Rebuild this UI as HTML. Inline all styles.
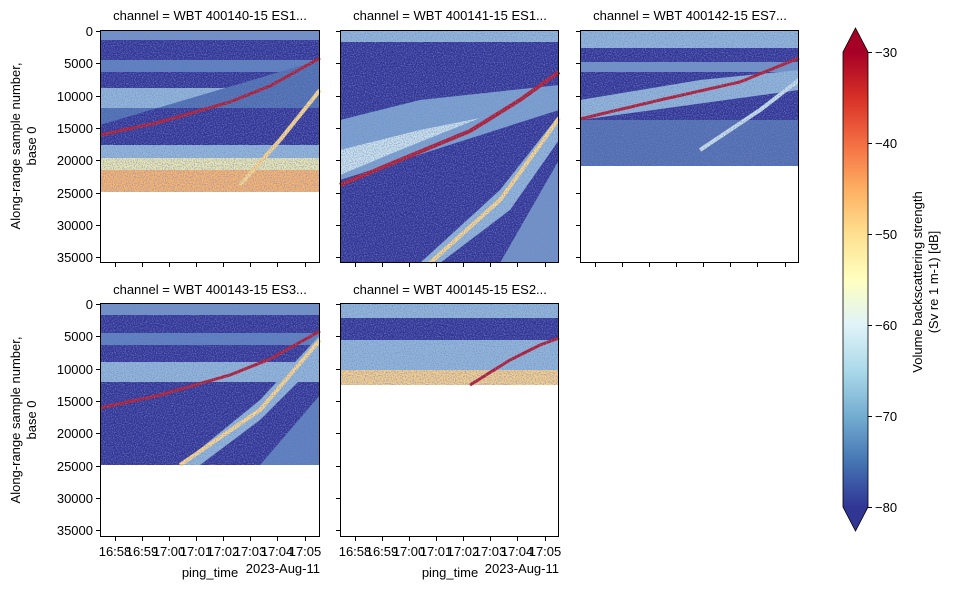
<!DOCTYPE html>
<html><head><meta charset="utf-8"><style>
body{margin:0;background:#fff}
svg text{font-family:"Liberation Sans","DejaVu Sans",sans-serif;font-size:13px;fill:#000}
</style></head><body>
<svg width="953" height="590" viewBox="0 0 953 590" xmlns="http://www.w3.org/2000/svg">
<defs>
<linearGradient id="cb" x1="0" y1="1" x2="0" y2="0">
<stop offset="0" stop-color="#313695"/><stop offset="0.1" stop-color="#4575b4"/><stop offset="0.2" stop-color="#74add1"/><stop offset="0.3" stop-color="#abd9e9"/><stop offset="0.4" stop-color="#e0f3f8"/><stop offset="0.5" stop-color="#ffffbf"/><stop offset="0.6" stop-color="#fee090"/><stop offset="0.7" stop-color="#fdae61"/><stop offset="0.8" stop-color="#f46d43"/><stop offset="0.9" stop-color="#d73027"/><stop offset="1" stop-color="#a50026"/>
</linearGradient>
<filter id="nz" x="0" y="0" width="100%" height="100%">
<feTurbulence type="fractalNoise" baseFrequency="0.9" numOctaves="1" seed="3" result="t"/>
<feColorMatrix in="t" type="matrix" values="0 0 0 0 0.2  0 0 0 0 0.22  0 0 0 0 0.58  0 0 0 -2.2 1.25" result="m"/>
<feComposite in="m" in2="SourceGraphic" operator="in"/>
</filter>
</defs>

<!-- Panel 1 -->
<g>
<rect x="100" y="30" width="220" height="162" fill="#313695"/>
<rect x="100" y="30" width="220" height="10" fill="#6f93c6"/>
<rect x="100" y="60" width="220" height="12" fill="#5a7fbd"/>
<rect x="100" y="88" width="220" height="20" fill="#8fb7d8"/>
<polygon points="100,108 320,108 320,60 100,125" fill="#4b6fb0"/>
<rect x="100" y="145" width="220" height="15" fill="#8fb7d8"/>
<rect x="100" y="158" width="220" height="12" fill="#e8e8b0"/>
<rect x="100" y="170" width="220" height="22" fill="#f8b66e"/>
<polyline points="100,135 160,122 230,102 270,86 320,58" stroke="#b2182b" stroke-width="3" fill="none"/>
<polyline points="240,185 280,140 320,90" stroke="#fdd98a" stroke-width="4" fill="none"/>
<rect x="100" y="30" width="220" height="162" filter="url(#nz)" fill="#fff"/>
</g>
<!-- Panel 2 -->
<g>
<rect x="340" y="30" width="219" height="233" fill="#313695"/>
<rect x="340" y="30" width="219" height="12" fill="#8fb7d8"/>
<polygon points="340,120 420,100 559,85 559,110 340,180" fill="#7aa3cf"/>
<polygon points="340,150 420,130 480,118 400,150 340,175" fill="#c9e3ea"/>
<polyline points="340,185 400,160 470,131 520,100 559,72" stroke="#b2182b" stroke-width="4" fill="none"/>
<polygon points="420,263 500,190 559,115 559,140 510,210 440,263" fill="#8fb7d8"/>
<polyline points="430,263 500,200 540,145 559,118" stroke="#fdd98a" stroke-width="4" fill="none"/>
<polygon points="500,263 559,160 559,263" fill="#6f93c6"/>
<rect x="340" y="30" width="219" height="233" filter="url(#nz)" fill="#fff"/>
</g>
<!-- Panel 3 -->
<g>
<rect x="580" y="30" width="219" height="136" fill="#313695"/>
<rect x="580" y="30" width="219" height="18" fill="#8fb7d8"/>
<rect x="580" y="62" width="219" height="10" fill="#6f93c6"/>
<polygon points="580,100 700,80 799,70 799,90 580,120" fill="#8fb7d8"/>
<rect x="580" y="120" width="219" height="46" fill="#4f6fb0"/>
<polyline points="580,119 660,100 740,82 799,58" stroke="#b2182b" stroke-width="3" fill="none"/>
<polyline points="700,150 760,110 799,80" stroke="#c9e3ea" stroke-width="4" fill="none"/>
<rect x="580" y="30" width="219" height="136" filter="url(#nz)" fill="#fff"/>
</g>
<!-- Panel 4 -->
<g>
<rect x="100" y="303" width="220" height="162" fill="#313695"/>
<rect x="100" y="303" width="220" height="12" fill="#6f93c6"/>
<rect x="100" y="333" width="220" height="12" fill="#5a7fbd"/>
<rect x="100" y="362" width="220" height="20" fill="#8fb7d8"/>
<polyline points="100,408 160,395 230,375 270,359 320,331" stroke="#b2182b" stroke-width="3" fill="none"/>
<polygon points="180,465 260,400 320,335 320,360 260,420 200,465" fill="#8fb7d8"/>
<polyline points="180,465 260,410 320,340" stroke="#fdd98a" stroke-width="4" fill="none"/>
<polygon points="260,465 320,395 320,465" fill="#5a7fbd"/>
<rect x="100" y="303" width="220" height="162" filter="url(#nz)" fill="#fff"/>
</g>
<!-- Panel 5 -->
<g>
<rect x="340" y="303" width="219" height="82" fill="#313695"/>
<rect x="340" y="303" width="219" height="15" fill="#8fb7d8"/>
<rect x="340" y="340" width="219" height="30" fill="#8fb7d8"/>
<rect x="340" y="370" width="219" height="15" fill="#f4d08a"/>
<polyline points="470,385 510,360 540,345 559,338" stroke="#b2182b" stroke-width="3" fill="none"/>
<rect x="340" y="303" width="219" height="82" filter="url(#nz)" fill="#fff"/>
</g>

<!-- frames -->
<g fill="none" stroke="#000" stroke-width="1">
<rect x="100.5" y="30.5" width="219" height="232"/>
<rect x="340.5" y="30.5" width="218" height="232"/>
<rect x="580.5" y="30.5" width="218" height="232"/>
<rect x="100.5" y="303.5" width="219" height="233"/>
<rect x="340.5" y="303.5" width="218" height="233"/>
</g>
<!-- y ticks -->
<g stroke="#000">
<path d="M96,31.5h4M96,63.5h4M96,96.5h4M96,128.5h4M96,160.5h4M96,193.5h4M96,225.5h4M96,257.5h4
M336,31.5h4M336,63.5h4M336,96.5h4M336,128.5h4M336,160.5h4M336,193.5h4M336,225.5h4M336,257.5h4
M576,31.5h4M576,63.5h4M576,96.5h4M576,128.5h4M576,160.5h4M576,193.5h4M576,225.5h4M576,257.5h4
M96,304.5h4M96,336.5h4M96,369.5h4M96,401.5h4M96,433.5h4M96,466.5h4M96,498.5h4M96,530.5h4
M336,304.5h4M336,336.5h4M336,369.5h4M336,401.5h4M336,433.5h4M336,466.5h4M336,498.5h4M336,530.5h4"/>
<path d="M115.5,263v4M142.5,263v4M169.5,263v4M196.5,263v4M223.5,263v4M250.5,263v4M277.5,263v4M305.5,263v4
M355.5,263v4M382.5,263v4M409.5,263v4M436.5,263v4M463.5,263v4M490.5,263v4M517.5,263v4M545.5,263v4
M595.5,263v4M622.5,263v4M649.5,263v4M676.5,263v4M703.5,263v4M730.5,263v4M757.5,263v4M785.5,263v4
M115.5,537v4M142.5,537v4M169.5,537v4M196.5,537v4M223.5,537v4M250.5,537v4M277.5,537v4M305.5,537v4
M355.5,537v4M382.5,537v4M409.5,537v4M436.5,537v4M463.5,537v4M490.5,537v4M517.5,537v4M545.5,537v4"/>
</g>
<g text-anchor="end">
<text x="93" y="36">0</text><text x="93" y="68">5000</text><text x="93" y="101">10000</text><text x="93" y="133">15000</text><text x="93" y="165">20000</text><text x="93" y="198">25000</text><text x="93" y="230">30000</text><text x="93" y="262">35000</text>
<text x="93" y="309">0</text><text x="93" y="341">5000</text><text x="93" y="374">10000</text><text x="93" y="406">15000</text><text x="93" y="438">20000</text><text x="93" y="471">25000</text><text x="93" y="503">30000</text><text x="93" y="535">35000</text>
</g>
<g text-anchor="middle">
<text x="210" y="20">channel = WBT 400140-15 ES1...</text>
<text x="450" y="20">channel = WBT 400141-15 ES1...</text>
<text x="690" y="20">channel = WBT 400142-15 ES7...</text>
<text x="210" y="294">channel = WBT 400143-15 ES3...</text>
<text x="450" y="294">channel = WBT 400145-15 ES2...</text>
<text x="115" y="556">16:58</text><text x="142" y="556">16:59</text><text x="169" y="556">17:00</text><text x="196" y="556">17:01</text><text x="223" y="556">17:02</text><text x="250" y="556">17:03</text><text x="277" y="556">17:04</text><text x="305" y="556">17:05</text>
<text x="355" y="556">16:58</text><text x="382" y="556">16:59</text><text x="409" y="556">17:00</text><text x="436" y="556">17:01</text><text x="463" y="556">17:02</text><text x="490" y="556">17:03</text><text x="517" y="556">17:04</text><text x="545" y="556">17:05</text>
<text x="210" y="577">ping_time</text><text x="450" y="577">ping_time</text>
</g>
<g text-anchor="end"><text x="320" y="573">2023-Aug-11</text><text x="559" y="573">2023-Aug-11</text></g>
<g text-anchor="middle">
<text transform="translate(20,146) rotate(-90)">Along-range sample number,</text>
<text transform="translate(36,146) rotate(-90)">base 0</text>
<text transform="translate(20,420) rotate(-90)">Along-range sample number,</text>
<text transform="translate(36,420) rotate(-90)">base 0</text>
</g>
<!-- colorbar -->
<polygon points="855.5,28 843,52 868,52" fill="#a50026"/>
<polygon points="855.5,531 843,507 868,507" fill="#313695"/>
<rect x="843" y="52" width="25" height="455" fill="url(#cb)"/>
<polygon points="855.5,28 868,52 868,507 855.5,531 843,507 843,52" fill="none" stroke="#000" stroke-width="0.8"/>
<g stroke="#000"><path d="M868,52.5h4M868,143.5h4M868,234.5h4M868,325.5h4M868,416.5h4M868,507.5h4"/></g>
<g><text x="875" y="57">−30</text><text x="875" y="148">−40</text><text x="875" y="239">−50</text><text x="875" y="330">−60</text><text x="875" y="421">−70</text><text x="875" y="512">−80</text></g>
<g text-anchor="middle">
<text transform="translate(922,282) rotate(-90)">Volume backscattering strength</text>
<text transform="translate(938,282) rotate(-90)">(Sv re 1 m-1) [dB]</text>
</g>
</svg>
</body></html>
